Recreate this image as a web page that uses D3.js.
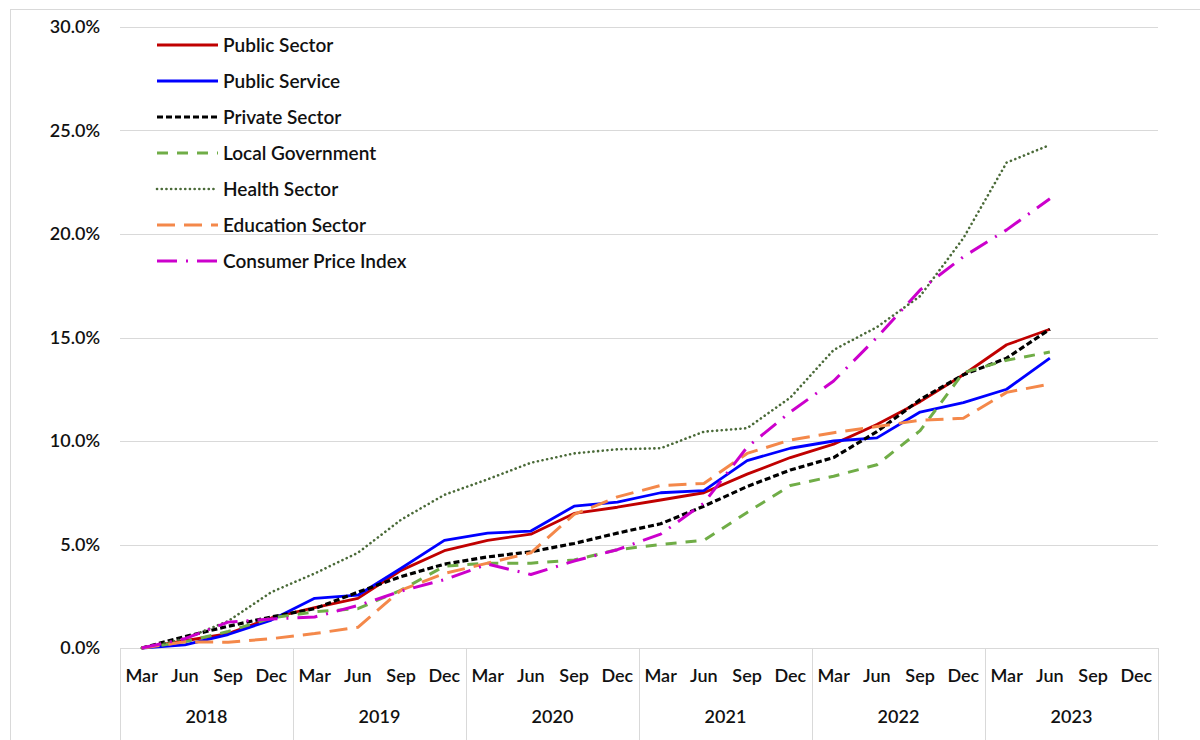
<!DOCTYPE html>
<html>
<head>
<meta charset="utf-8">
<script src="https://cdn.jsdelivr.net/npm/d3@7"></script>
<style>
  body { margin: 0; background: #fff; }
  svg { display: block; font-family: Lato, "Open Sans", sans-serif; }
</style>
</head>
<body>
<svg id="chart" width="1200" height="740"></svg>
<script>
// Quarter labels and years on the x axis
const years = ["2018", "2019", "2020", "2021", "2022", "2023"];
const months = ["Mar", "Jun", "Sep", "Dec"];
const yTicks = [0, 5, 10, 15, 20, 25, 30];

// Cumulative growth (%) from Mar 2018, Mar 2018 .. Jun 2023
const publicSector = [0, 0.35, 0.7, 1.45, 1.95, 2.4, 3.75, 4.7, 5.2, 5.5, 6.5, 6.8, 7.15, 7.5, 8.4, 9.2, 9.85, 10.8, 11.9, 13.2, 14.65, 15.4];
const publicService = [0, 0.15, 0.65, 1.35, 2.4, 2.55, 3.85, 5.2, 5.55, 5.65, 6.85, 7.05, 7.5, 7.6, 9.05, 9.65, 10.0, 10.15, 11.4, 11.85, 12.5, 14.0];
const privateSector = [0, 0.55, 1.05, 1.5, 1.9, 2.7, 3.45, 4.05, 4.4, 4.65, 5.05, 5.55, 6.0, 6.85, 7.8, 8.6, 9.2, 10.45, 12.0, 13.2, 14.0, 15.4];
const localGovernment = [0, 0.3, 0.8, 1.45, 1.75, 1.9, 2.8, 3.95, 4.1, 4.1, 4.25, 4.75, 5.0, 5.2, 6.55, 7.85, 8.3, 8.85, 10.5, 13.3, 13.9, 14.3];
const healthSector = [0, 0.45, 1.3, 2.7, 3.6, 4.6, 6.2, 7.4, 8.15, 8.95, 9.4, 9.6, 9.65, 10.45, 10.62, 12.1, 14.4, 15.5, 17.0, 19.8, 23.45, 24.3];
const educationSector = [0, 0.3, 0.28, 0.45, 0.7, 1.0, 2.8, 3.6, 4.1, 4.6, 6.45, 7.3, 7.85, 7.95, 9.4, 10.05, 10.4, 10.7, 11.0, 11.1, 12.35, 12.75];
const cpi = [0, 0.45, 1.25, 1.4, 1.5, 2.05, 2.75, 3.3, 4.05, 3.55, 4.2, 4.75, 5.5, 7.0, 9.7, 11.4, 12.9, 15.0, 17.3, 18.9, 20.2, 21.7];

const series = [
  { name: "Public Sector", values: publicSector, color: "#c00000", width: 2.8, dash: null },
  { name: "Public Service", values: publicService, color: "#0000ff", width: 2.8, dash: null },
  { name: "Private Sector", values: privateSector, color: "#000000", width: 3.2, dash: "6,3" },
  { name: "Local Government", values: localGovernment, color: "#70ad47", width: 3, dash: "11,9" },
  { name: "Health Sector", values: healthSector, color: "#4a6a38", width: 2.6, dash: "0.1,4.6" },
  { name: "Education Sector", values: educationSector, color: "#f4884a", width: 3, dash: "18,9" },
  { name: "Consumer Price Index", values: cpi, color: "#cc00cc", width: 3, dash: "20,9,2,9" }
];

const quarters = [];
years.forEach(y => months.forEach(m => quarters.push(y + "-" + m)));

const svg = d3.select("#chart");

// outer frame
svg.append("rect")
  .attr("x", 10.5).attr("y", 9.5)
  .attr("width", 1200).attr("height", 740)
  .attr("fill", "none").attr("stroke", "#d9d9d9");

const plotLeft = 120, plotRight = 1158, plotTop = 27, plotBottom = 648;

const x = d3.scaleBand().domain(quarters).range([plotLeft, plotRight]);
const y = d3.scaleLinear().domain([0, 30]).range([plotBottom, plotTop]);
const cx = i => x(quarters[i]) + x.bandwidth() / 2;

// gridlines
svg.append("g")
  .selectAll("line")
  .data(yTicks)
  .join("line")
  .attr("x1", plotLeft).attr("x2", plotRight)
  .attr("y1", d => Math.round(y(d)) + 0.5).attr("y2", d => Math.round(y(d)) + 0.5)
  .attr("stroke", "#d9d9d9").attr("stroke-width", 1);

// y labels
svg.append("g")
  .selectAll("text")
  .data(yTicks)
  .join("text")
  .attr("x", 100)
  .attr("y", d => y(d))
  .attr("dy", "0.35em")
  .attr("text-anchor", "end")
  .style("font-size", "18px")
  .style("font-weight", "600")
  .attr("fill", "#111")
  .text(d => d.toFixed(1) + "%");

// category axis: year separators
const bounds = years.map(yr => x(yr + "-Mar")).concat([plotRight]);
svg.append("g")
  .selectAll("line")
  .data(bounds)
  .join("line")
  .attr("x1", d => Math.round(d) + 0.5).attr("x2", d => Math.round(d) + 0.5)
  .attr("y1", plotBottom).attr("y2", 740)
  .attr("stroke", "#d9d9d9");

svg.append("g")
  .selectAll("text")
  .data(quarters)
  .join("text")
  .attr("x", d => x(d) + x.bandwidth() / 2)
  .attr("y", 676)
  .attr("dy", "0.35em")
  .attr("text-anchor", "middle")
  .style("font-size", "18px")
  .style("font-weight", "600")
  .attr("fill", "#111")
  .text(d => d.split("-")[1]);

svg.append("g")
  .selectAll("text")
  .data(years)
  .join("text")
  .attr("x", d => x(d + "-Mar") + x.bandwidth() * 2)
  .attr("y", 717)
  .attr("dy", "0.35em")
  .attr("text-anchor", "middle")
  .style("font-size", "18px")
  .style("font-weight", "600")
  .attr("fill", "#111")
  .text(d => d);

// lines
const line = d3.line()
  .x((d, i) => cx(i))
  .y(d => y(d));

svg.append("g")
  .selectAll("path")
  .data(series)
  .join("path")
  .attr("d", d => line(d.values))
  .attr("fill", "none")
  .attr("stroke", d => d.color)
  .attr("stroke-width", d => d.width)
  .attr("stroke-dasharray", d => d.dash)
  .attr("stroke-linecap", d => d.name === "Health Sector" ? "round" : "butt")
  .attr("stroke-linejoin", "round");

// legend
const legend = svg.append("g").attr("transform", "translate(157,45)");
const item = legend.selectAll("g")
  .data(series)
  .join("g")
  .attr("transform", (d, i) => `translate(0,${i * 36})`);

item.append("line")
  .attr("x1", 0).attr("x2", 61)
  .attr("y1", 0).attr("y2", 0)
  .attr("stroke", d => d.color)
  .attr("stroke-width", d => d.width)
  .attr("stroke-dasharray", d => d.dash)
  .attr("stroke-linecap", d => d.name === "Health Sector" ? "round" : "butt");

item.append("text")
  .attr("x", 66)
  .attr("y", 0)
  .attr("dy", "0.35em")
  .style("font-size", "19px")
  .style("font-weight", "600")
  .attr("fill", "#111")
  .text(d => d.name);
</script>
</body>
</html>
